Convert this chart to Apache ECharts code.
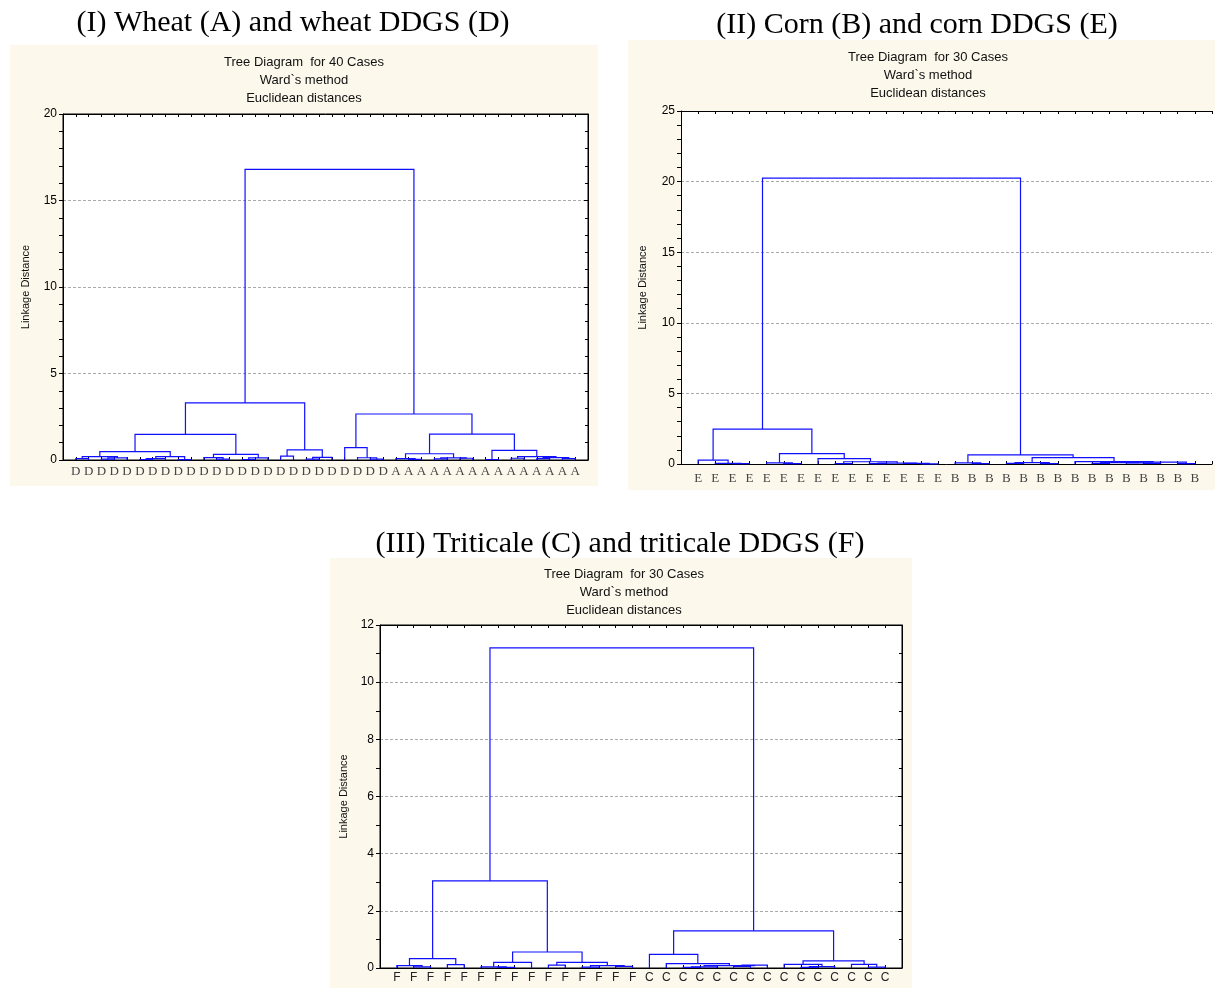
<!DOCTYPE html>
<html><head><meta charset="utf-8">
<script src="https://cdn.jsdelivr.net/npm/echarts@6/dist/echarts.min.js"></script>
<style>html,body{margin:0;padding:0;background:#fff}#c{width:1215px;height:988px}</style>
</head><body><div id="c"></div><script>
// ---------- DATA ----------
const labelsWheat = ['D','D','D','D','D','D','D','D','D','D','D','D','D','D','D','D','D','D','D','D','D','D','D','D','D',
                     'A','A','A','A','A','A','A','A','A','A','A','A','A','A','A'];
const labelsCorn = ['E','E','E','E','E','E','E','E','E','E','E','E','E','E','E',
                    'B','B','B','B','B','B','B','B','B','B','B','B','B','B','B'];
const labelsTriticale = ['F','F','F','F','F','F','F','F','F','F','F','F','F','F','F',
                         'C','C','C','C','C','C','C','C','C','C','C','C','C','C','C'];

// Dendrograms: node = leaf index, or [left, right, linkage distance]
const treeWheat = [
  [ // D group, 3.3
    [ [ [[0,1,0.08],[[2,3,0.05],4,0.12],0.2], [[[5,6,0.03],7,0.08],[8,9,0.02],0.2], 0.48 ],
      [ [10,[11,12,0.05],0.14], [[13,14,0.03],15,0.12], 0.33 ], 1.48 ],
    [ [16,17,0.22], [[18,19,0.05],20,0.15], 0.58 ],
    3.3 ],
  [ // mixed / A group, 2.66
    [21,[22,[23,24,0.05],0.13],0.71],
    [ [ [25,[26,27,0.04],0.08], [[28,29,0.06],[30,31,0.1],0.12], 0.36 ],
      [ [32,33,0.03], [[34,35,0.1],[[36,37,0.08],[38,39,0.08],0.14],0.2], 0.56 ],
      1.5 ],
    2.66 ],
  16.8 ];

const treeCorn = [
  [ [0,[1,[2,3,0.02],0.05],0.28],
    [ [4,[5,6,0.03],0.08],
      [7,[[8,9,0.03],[[10,11,0.02],[12,[13,14,0.01],0.04],0.06],0.16],0.38],
      0.73 ],
    2.47 ],
  [ [15,[16,17,0.02],0.08],
    [ [[18,19,0.04],[20,21,0.02],0.1],
      [22,[[[23,24,0.05],[25,[26,27,0.04],0.07],0.1],[28,29,0.03],0.13],0.17],
      0.45 ],
    0.64 ],
  20.25 ];

const treeTriticale = [
  [ [[0,[1,2,0.04],0.08],[3,4,0.12],0.33],
    [ [[5,[6,7,0.02],0.04],8,0.2],
      [[9,10,0.1],[[11,12,0.03],[13,14,0.06],0.08],0.2],
      0.56 ],
    3.05 ],
  [ [15,[16,[[[17,18,0.02],19,0.04],[[20,21,0.06],22,0.1],0.08],0.15],0.48],
    [ [23,[[24,25,0.02],26,0.05],0.13], [27,[28,29,0.03],0.13], 0.25 ],
    1.3 ],
  11.2 ];

const yTicksWheat = [0, 20, 5];      // min, max, major step
const yTicksCorn = [0, 25, 5];
const yTicksTriticale = [0, 12, 2];

const panelTitles = ['(I) Wheat (A) and wheat DDGS (D)', '(II) Corn (B) and corn DDGS (E)', '(III) Triticale (C) and triticale DDGS (F)'];
const subTitlesWheat = ['Tree Diagram  for 40 Cases', 'Ward`s method', 'Euclidean distances'];
const subTitlesCorn = ['Tree Diagram  for 30 Cases', 'Ward`s method', 'Euclidean distances'];
const subTitlesTriticale = ['Tree Diagram  for 30 Cases', 'Ward`s method', 'Euclidean distances'];

// ---------- BUILD ----------
function layoutTree(tree) {
  let counter = 0; const segs = [];
  function walk(node) {
    if (typeof node === 'number') { counter += 1; return [counter, 0]; }
    const a = walk(node[0]); const b = walk(node[1]); const h = node[2];
    segs.push([a[0], a[1], b[0], b[1], h]);
    return [(a[0] + b[0]) / 2, h];
  }
  walk(tree);
  return segs;
}

const panels = [
  {labels: labelsWheat, tree: treeWheat, yt: yTicksWheat, minor: 5, rightAxis: true, border: true,
   grid: {left: 63, top: 114, width: 525, height: 346},
   bg: [10, 45, 588, 441], titleX: 293, titleY: 23, subX: 304, subY: 62,
   xFont: {fontFamily: 'Liberation Serif', fontSize: 13, color: '#444', margin: 5}, nameGap: 32},
  {labels: labelsCorn, tree: treeCorn, yt: yTicksCorn, minor: 5, rightAxis: false, border: false,
   grid: {left: 681, top: 111, right: -2, height: 353},
   bg: [628, 40, 590, 450], titleX: 917, titleY: 25, subX: 928, subY: 57,
   xFont: {fontFamily: 'Liberation Serif', fontSize: 13, color: '#444', margin: 8}, nameGap: 33},
  {labels: labelsTriticale, tree: treeTriticale, yt: yTicksTriticale, minor: 2, rightAxis: true, border: true,
   grid: {left: 380, top: 625, width: 522, height: 343},
   bg: [330, 558, 582, 430], titleX: 620, titleY: 544, subX: 624, subY: 574,
   xFont: {fontFamily: 'Liberation Sans', fontSize: 12, color: '#222', margin: 4}, nameGap: 31}
];
const subTitles = [subTitlesWheat, subTitlesCorn, subTitlesTriticale];

const grids = [], xAxes = [], yAxes = [], series = [], graphics = [];
panels.forEach((p, i) => {
  const n = p.labels.length;
  grids.push(Object.assign({show: p.border, backgroundColor: '#fff', borderColor: '#000', borderWidth: 1}, p.grid));
  graphics.push({type: 'rect', z: -10, shape: {x: p.bg[0], y: p.bg[1], width: p.bg[2], height: p.bg[3]},
                 style: {fill: '#fdf8ec'}});
  if (!p.border) {
    graphics.push({type: 'rect', z: -9, shape: {x: p.grid.left, y: p.grid.top, width: 1215 - p.grid.left, height: p.grid.height},
                   style: {fill: '#fff'}});
  }
  graphics.push({type: 'text', x: p.titleX, y: p.titleY, z: 10,
                 style: {text: panelTitles[i], font: '30px "Liberation Serif"', fill: '#000', textAlign: 'center', textVerticalAlign: 'middle'}});
  subTitles[i].forEach((s, k) => {
    graphics.push({type: 'text', x: p.subX, y: p.subY + k * 18, z: 10,
                   style: {text: s, font: '13px "Liberation Sans"', fill: '#111', textAlign: 'center', textVerticalAlign: 'middle'}});
  });
  const xb = {gridIndex: i, type: 'value', min: 0, max: n + 1, interval: 1, position: 'bottom',
    axisLine: {show: true, onZero: false, lineStyle: {color: '#000', width: 1}},
    axisTick: {show: true, inside: true, length: 3, lineStyle: {color: '#000'}},
    splitLine: {show: false},
    axisLabel: Object.assign({show: true, formatter: v => p.labels[v - 1] || '', showMinLabel: true, showMaxLabel: true}, p.xFont)};
  const xt = {gridIndex: i, type: 'value', min: 0, max: n + 1, interval: 1, position: 'top',
    axisLine: {show: true, onZero: false, lineStyle: {color: '#000'}},
    axisTick: {show: true, inside: true, length: 3, lineStyle: {color: '#000'}},
    splitLine: {show: false}, axisLabel: {show: false}};
  xAxes.push(xb, xt);
  const yl = {gridIndex: i, type: 'value', min: p.yt[0], max: p.yt[1], interval: p.yt[2], position: 'left',
    name: 'Linkage Distance', nameLocation: 'middle', nameGap: p.nameGap,
    nameTextStyle: {fontFamily: 'Liberation Sans', fontSize: 11, color: '#111'},
    axisLine: {show: true, onZero: false, lineStyle: {color: '#000'}},
    axisTick: {show: true, inside: false, length: 4, lineStyle: {color: '#000'}},
    minorTick: {show: true, splitNumber: p.minor, length: 4, lineStyle: {color: '#000'}},
    splitLine: {show: true, lineStyle: {color: '#aaa', type: [3, 2], width: 1}},
    axisLabel: {fontFamily: 'Liberation Sans', fontSize: 12, color: '#000', margin: 6}};
  const yr = {gridIndex: i, type: 'value', min: p.yt[0], max: p.yt[1], interval: p.yt[2], position: 'right',
    show: p.rightAxis,
    axisLine: {show: true, onZero: false, lineStyle: {color: '#000'}},
    axisTick: {show: true, inside: true, length: 4, lineStyle: {color: '#000'}},
    minorTick: {show: true, splitNumber: p.minor, length: 3, lineStyle: {color: '#000'}},
    splitLine: {show: false}, axisLabel: {show: false}};
  yAxes.push(yl, yr);
  series.push({
    type: 'custom', xAxisIndex: 2 * i, yAxisIndex: 2 * i, clip: false, z: 5,
    data: layoutTree(p.tree),
    encode: {x: [0, 2], y: [1, 3, 4]},
    renderItem: (params, api) => {
      const p1 = api.coord([api.value(0), api.value(1)]);
      const p2 = api.coord([api.value(0), api.value(4)]);
      const p3 = api.coord([api.value(2), api.value(4)]);
      const p4 = api.coord([api.value(2), api.value(3)]);
      return {type: 'polyline', shape: {points: [p1, p2, p3, p4]},
              style: {stroke: '#1010ff', lineWidth: 1.2, fill: null}};
    }
  });
});

const chart = echarts.init(document.getElementById('c'), null, {renderer: 'canvas'});
chart.setOption({
  backgroundColor: '#fff',
  animation: false,
  grid: grids, xAxis: xAxes, yAxis: yAxes, series: series, graphic: graphics
});
</script></body></html>
